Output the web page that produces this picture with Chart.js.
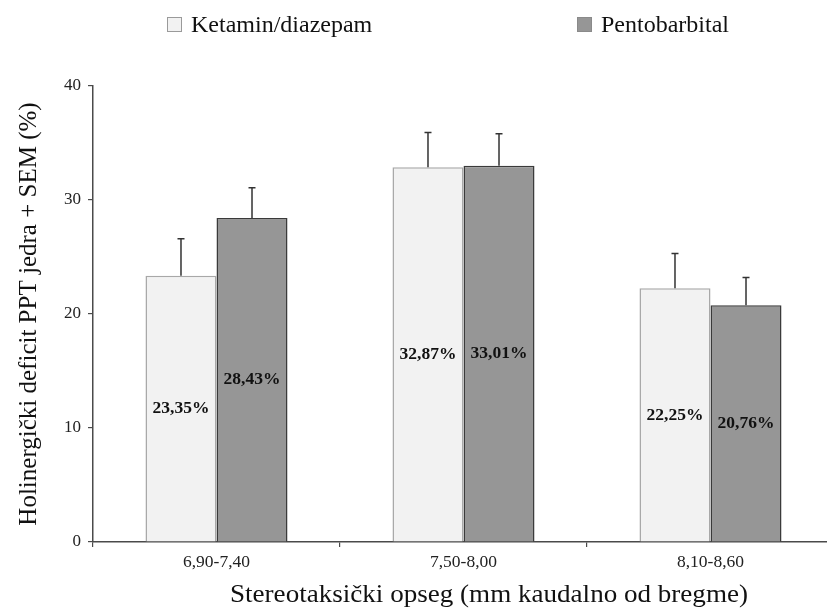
<!DOCTYPE html>
<html>
<head>
<meta charset="utf-8">
<script src="https://cdn.jsdelivr.net/npm/chart.js@4/dist/chart.umd.min.js"></script>
<style>
  html, body { margin: 0; padding: 0; background: #fff; overflow: hidden; }
  #chart { display: block; }
</style>
</head>
<body>
<canvas id="chart" width="840" height="609"></canvas>
<script>
const categories = ['6,90-7,40', '7,50-8,00', '8,10-8,60'];
const seriesNames = ['Ketamin/diazepam', 'Pentobarbital'];
const ketaminValues = [23.35, 32.87, 22.25];
const ketaminSem = [3.25, 3.05, 3.05];
const pentobarbitalValues = [28.43, 33.01, 20.76];
const pentobarbitalSem = [2.65, 2.8, 2.45];
const yTicks = [0, 10, 20, 30, 40];
const xTitle = 'Stereotaksički opseg (mm kaudalno od bregme)';
const yTitle = 'Holinergički deficit PPT jedra + SEM (%)';

const serif = "'Liberation Serif', 'Times New Roman', serif";
const axisColor = '#4a4a4a';

// error bars (+SEM only) and the percentage labels in the middle of each bar
const barExtras = {
  id: 'barExtras',
  afterDatasetsDraw(chart) {
    const ctx = chart.ctx;
    const yScale = chart.scales.y;
    ctx.save();
    chart.data.datasets.forEach((ds, di) => {
      const meta = chart.getDatasetMeta(di);
      meta.data.forEach((bar, i) => {
        const top = yScale.getPixelForValue(ds.data[i] + ds.sem[i]);
        ctx.strokeStyle = '#333';
        ctx.lineWidth = 1.5;
        ctx.beginPath();
        ctx.moveTo(bar.x, bar.y);
        ctx.lineTo(bar.x, top);
        ctx.moveTo(bar.x - 3.5, top);
        ctx.lineTo(bar.x + 3.5, top);
        ctx.stroke();

        const mid = yScale.getPixelForValue(ds.data[i] / 2);
        ctx.fillStyle = '#111';
        ctx.font = 'bold 17.5px ' + serif;
        ctx.textAlign = 'center';
        ctx.textBaseline = 'middle';
        ctx.fillText(ds.data[i].toFixed(2).replace('.', ',') + '%', bar.x, mid);
      });
    });
    ctx.restore();
  }
};

// legend as two widely spaced items, and the x title set right of centre, as in the original
const looseText = {
  id: 'looseText',
  afterDraw(chart) {
    const ctx = chart.ctx;
    const xs = [167, 577];
    ctx.save();
    chart.data.datasets.forEach((ds, i) => {
      ctx.fillStyle = ds.backgroundColor;
      ctx.fillRect(xs[i], 17, 15, 15);
      ctx.strokeStyle = i === 0 ? '#9a9a9a' : '#8a8a8a';
      ctx.lineWidth = 1;
      ctx.strokeRect(xs[i] + 0.5, 17.5, 14, 14);
      ctx.fillStyle = '#111';
      ctx.font = '24px ' + serif;
      ctx.textAlign = 'left';
      ctx.textBaseline = 'alphabetic';
      ctx.fillText(ds.label, xs[i] + 24, 32);
    });

    ctx.font = '25px ' + serif;
    const w = ctx.measureText(xTitle).width;
    ctx.translate(489, 602);
    ctx.scale(518 / w, 1);
    ctx.textAlign = 'center';
    ctx.fillText(xTitle, 0, 0);
    ctx.restore();
  }
};

new Chart(document.getElementById('chart'), {
  type: 'bar',
  data: {
    labels: categories,
    datasets: [
      {
        label: seriesNames[0],
        data: ketaminValues,
        sem: ketaminSem,
        backgroundColor: '#f2f2f2',
        borderColor: '#a8a8a8',
        borderWidth: 1.5,
        categoryPercentage: 0.575,
        barPercentage: 1.0
      },
      {
        label: seriesNames[1],
        data: pentobarbitalValues,
        sem: pentobarbitalSem,
        backgroundColor: '#969696',
        borderColor: '#3a3a3a',
        borderWidth: 1.5,
        categoryPercentage: 0.575,
        barPercentage: 1.0
      }
    ]
  },
  options: {
    responsive: false,
    animation: false,
    maintainAspectRatio: false,
    layout: { padding: { top: 86, right: 6, left: 0, bottom: 0 } },
    plugins: {
      legend: { display: false },
      tooltip: { enabled: false }
    },
    scales: {
      x: {
        afterFit: s => { s.height = 67; },
        grid: { display: true, drawOnChartArea: false, tickLength: 5, color: axisColor, lineWidth: 1.2 },
        border: { color: axisColor, width: 1.5 },
        ticks: { color: '#222', font: { family: serif, size: 17.5 }, padding: 5 },
        title: { display: false }
      },
      y: {
        min: 0,
        max: 40,
        afterFit: s => { s.width = 93; },
        afterBuildTicks: s => { s.ticks = yTicks.map(v => ({ value: v })); },
        grid: { display: true, drawOnChartArea: false, tickLength: 5, color: axisColor, lineWidth: 1.2 },
        border: { color: axisColor, width: 1.5 },
        ticks: { color: '#222', font: { family: serif, size: 17 }, padding: 7 },
        title: {
          display: true,
          text: yTitle,
          color: '#111',
          font: { family: serif, size: 25 },
          padding: { top: 14, bottom: 0 }
        }
      }
    }
  },
  plugins: [barExtras, looseText]
});
</script>
</body>
</html>
